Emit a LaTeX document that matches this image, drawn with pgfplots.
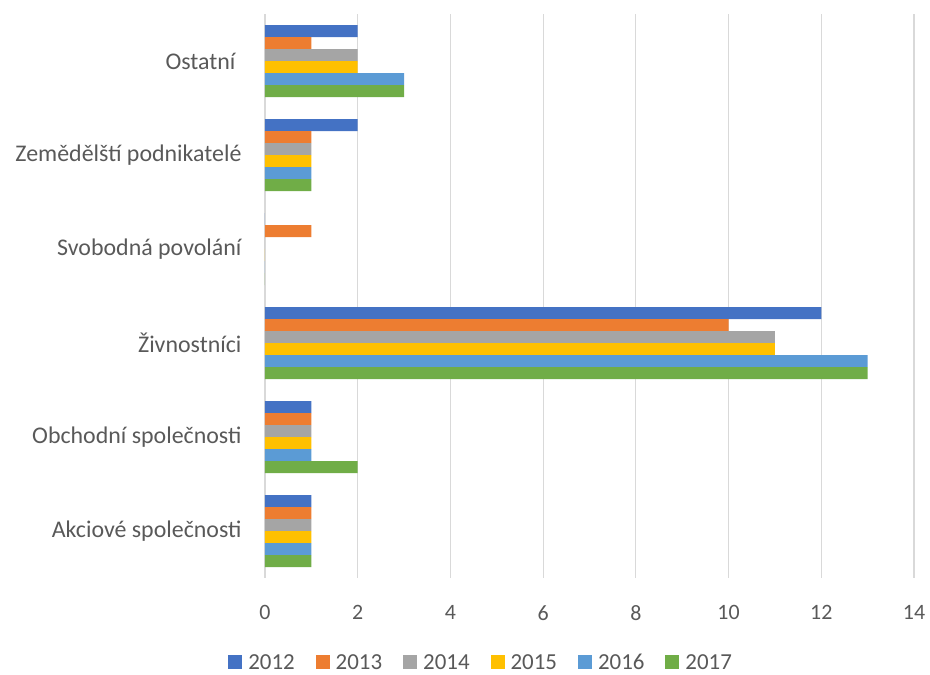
\documentclass[border=0pt]{standalone}
\usepackage{pgfplots}
\pgfplotsset{compat=1.18}
\usepackage{fontspec}
\setmainfont{Carlito}
\definecolor{c12}{HTML}{4472C4}
\definecolor{c13}{HTML}{ED7D31}
\definecolor{c14}{HTML}{A5A5A5}
\definecolor{c15}{HTML}{FFC000}
\definecolor{c16}{HTML}{5B9BD5}
\definecolor{c17}{HTML}{70AD47}
\definecolor{txt}{HTML}{595959}
\definecolor{grd}{HTML}{D9D9D9}
\begin{document}
\begin{tikzpicture}
\useasboundingbox (-265bp,-97bp) rectangle (665bp,578bp);
\begin{axis}[
  at={(0,0)}, anchor=south west,
  scale only axis, width=649bp, height=564bp,
  xbar, bar width=12bp,
  y dir=reverse,
  xmin=0, xmax=14, xtick={0,2,...,14},
  ymin=-0.5, ymax=5.5, ytick={0,1,2,3,4,5},
  yticklabels={Ostatní\kern6bp,Zemědělští podnikatelé,Svobodná povolání,Živnostníci,Obchodní společnosti,Akciové společnosti},
  xmajorgrids, grid style={grd, line width=1.2bp},
  axis line style={draw=none},
  major tick length=0pt,
  /pgf/number format/assume math mode=true,
  xticklabel style={font=\fontsize{22}{26}\selectfont, text=txt, yshift=-24bp},
  yticklabel style={font=\fontsize{24}{28}\selectfont, text=txt, xshift=-20bp},
  legend columns=6,
  legend style={draw=none, at={(0.333,-0.1498)}, anchor=center,
    font=\fontsize{23}{27}\selectfont, text=txt,
    /tikz/every odd column/.append style={column sep=4bp},
    /tikz/every even column/.append style={column sep=19bp}},
  legend image code/.code={\fill[#1] (0bp,-7bp) rectangle (14bp,7bp);},
  every axis plot/.append style={draw=none},
]
\addplot[fill=c12, bar shift=30bp] coordinates {(2,0) (2,1) (0,2) (12,3) (1,4) (1,5)};
\addplot[fill=c13, bar shift=18bp] coordinates {(1,0) (1,1) (1,2) (10,3) (1,4) (1,5)};
\addplot[fill=c14, bar shift=6bp] coordinates {(2,0) (1,1) (0,2) (11,3) (1,4) (1,5)};
\addplot[fill=c15, bar shift=-6bp] coordinates {(2,0) (1,1) (0,2) (11,3) (1,4) (1,5)};
\addplot[fill=c16, bar shift=-18bp] coordinates {(3,0) (1,1) (0,2) (13,3) (1,4) (1,5)};
\addplot[fill=c17, bar shift=-30bp] coordinates {(3,0) (1,1) (0,2) (13,3) (2,4) (1,5)};
\legend{2012,2013,2014,2015,2016,2017}
\end{axis}
\end{tikzpicture}
\end{document}
